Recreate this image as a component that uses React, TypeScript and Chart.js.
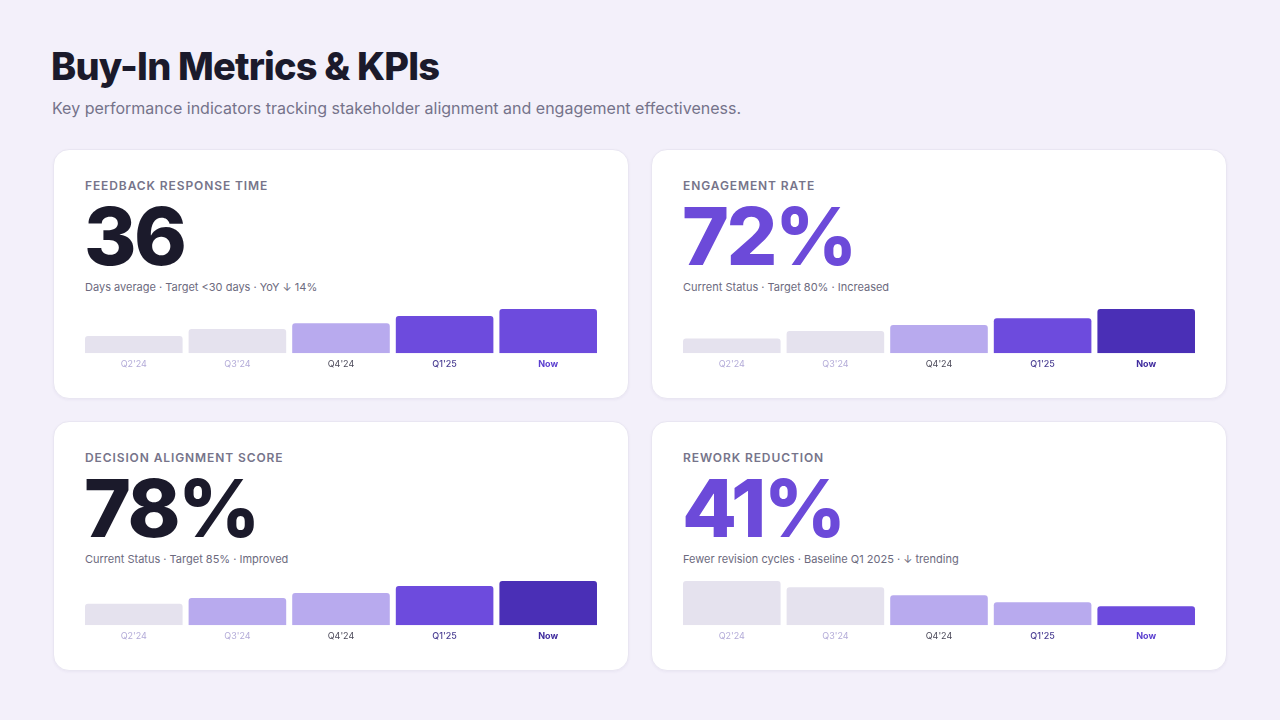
import React, { useEffect, useRef } from "react";
import { Chart, registerables } from "chart.js";

Chart.register(...registerables);

// Quarter labels shared by every KPI card
const quarters = ["Q2'24", "Q3'24", "Q4'24", "Q1'25", "Now"];

// Per-card trend values (tallest bar fills the strip)
const responseTrend = [39, 55, 68, 84, 100];
const engagementTrend = [24, 36, 46, 57, 72];
const alignmentTrend = [38, 48, 57, 69, 78];
const reworkTrend = [100, 86, 68, 52, 43];

// Palette
const GRAY = "#e5e2ee";
const LAV = "#b8aaee";
const PURPLE = "#6d4bdd";
const INDIGO = "#4a2fb6";

const responseColors = [GRAY, GRAY, LAV, PURPLE, PURPLE];
const engagementColors = [GRAY, GRAY, LAV, PURPLE, INDIGO];
const alignmentColors = [GRAY, LAV, LAV, PURPLE, INDIGO];
const reworkColors = [GRAY, GRAY, LAV, LAV, PURPLE];

const TICK_SOFT = "#b3abd8";
const TICK_MID = "#4c4a5a";
const TICK_Q1 = "#4b3f93";

const BG = "#f3f0fa";

type CardProps = {
  left: number;
  top: number;
  label: string;
  value: string;
  valueColor: string;
  note: string;
  data: number[];
  colors: string[];
  nowColor: string;
};

function TrendBars({ data, colors, nowColor }: { data: number[]; colors: string[]; nowColor: string }) {
  const ref = useRef<HTMLCanvasElement | null>(null);
  useEffect(() => {
    if (!ref.current) return;
    const tickColors = [TICK_SOFT, TICK_SOFT, TICK_MID, TICK_Q1, nowColor];
    const chart = new Chart(ref.current, {
      type: "bar",
      data: {
        labels: quarters,
        datasets: [
          {
            data,
            backgroundColor: colors,
            borderRadius: { topLeft: 3, topRight: 3, bottomLeft: 0, bottomRight: 0 },
            borderSkipped: false,
            barPercentage: 0.942,
            categoryPercentage: 1,
          },
        ],
      },
      options: {
        animation: false,
        responsive: false,
        maintainAspectRatio: false,
        layout: { padding: 0 },
        plugins: { legend: { display: false }, tooltip: { enabled: false } },
        scales: {
          x: {
            grid: { display: false, drawTicks: false },
            border: { display: false },
            ticks: {
              padding: 6,
              color: (ctx: any) => tickColors[ctx.index] ?? TICK_SOFT,
              font: (ctx: any) => ({
                family: "Inter",
                size: 9,
                weight: ctx.index === 4 ? 700 : ctx.index === 3 ? 500 : 400,
              }),
            },
          },
          y: {
            display: false,
            min: 0,
            max: Math.max(...data),
          },
        },
      },
    });
    return () => chart.destroy();
  }, [data, colors, nowColor]);
  return <canvas ref={ref} width={518} height={67} style={{ display: "block", width: 518, height: 67 }} />;
}

function KpiCard(p: CardProps) {
  return (
    <div
      style={{
        position: "absolute",
        left: p.left,
        top: p.top,
        width: 576,
        height: 250,
        boxSizing: "border-box",
        background: "#ffffff",
        border: "1px solid #e9e6f2",
        borderRadius: 16,
        boxShadow: "0 1px 3px rgba(60,40,120,0.05)",
      }}
    >
      <div
        style={{
          position: "absolute",
          left: 31,
          top: 29,
          fontSize: 12,
          lineHeight: "14px",
          fontWeight: 600,
          letterSpacing: 0.9,
          color: "#76748a",
          whiteSpace: "nowrap",
        }}
      >
        {p.label}
      </div>
      <div
        style={{
          position: "absolute",
          left: 30,
          top: 56,
          fontSize: 80,
          lineHeight: "60px",
          fontWeight: 800,
          letterSpacing: -2.5,
          color: p.valueColor,
          whiteSpace: "nowrap",
        }}
      >
        {p.value}
      </div>
      <div
        style={{
          position: "absolute",
          left: 31,
          top: 130,
          fontSize: 11,
          lineHeight: "14px",
          color: "#6c6a7e",
          whiteSpace: "nowrap",
        }}
      >
        {p.note}
      </div>
      <div style={{ position: "absolute", left: 28, top: 159 }}>
        <TrendBars data={p.data} colors={p.colors} nowColor={p.nowColor} />
      </div>
    </div>
  );
}

export default function App() {
  useEffect(() => {
    document.body.style.margin = "0";
    document.body.style.background = BG;
    document.documentElement.style.background = BG;
  }, []);
  return (
    <div
      style={{
        position: "fixed",
        left: 0,
        top: 0,
        width: 1280,
        height: 720,
        background: BG,
        fontFamily: "Inter, 'Noto Sans', sans-serif",
        overflow: "hidden",
      }}
    >
      <div
        style={{
          position: "absolute",
          left: 51,
          top: 43,
          fontSize: 38,
          lineHeight: "46px",
          fontWeight: 800,
          letterSpacing: -0.8,
          color: "#1b1a2b",
          whiteSpace: "nowrap",
        }}
      >
        Buy-In Metrics &amp; KPIs
      </div>
      <div
        style={{
          position: "absolute",
          left: 52,
          top: 97,
          fontSize: 16,
          lineHeight: "22px",
          color: "#75738a",
          whiteSpace: "nowrap",
        }}
      >
        Key performance indicators tracking stakeholder alignment and engagement effectiveness.
      </div>

      <KpiCard
        left={53}
        top={149}
        label="FEEDBACK RESPONSE TIME"
        value="36"
        valueColor="#1b1a2b"
        note="Days average · Target <30 days · YoY ↓ 14%"
        data={responseTrend}
        colors={responseColors}
        nowColor="#5b3fd0"
      />
      <KpiCard
        left={651}
        top={149}
        label="ENGAGEMENT RATE"
        value="72%"
        valueColor="#6c4ad9"
        note="Current Status · Target 80% · Increased"
        data={engagementTrend}
        colors={engagementColors}
        nowColor="#3f2b9e"
      />
      <KpiCard
        left={53}
        top={421}
        label="DECISION ALIGNMENT SCORE"
        value="78%"
        valueColor="#1b1a2b"
        note="Current Status · Target 85% · Improved"
        data={alignmentTrend}
        colors={alignmentColors}
        nowColor="#3f2b9e"
      />
      <KpiCard
        left={651}
        top={421}
        label="REWORK REDUCTION"
        value="41%"
        valueColor="#6c4ad9"
        note="Fewer revision cycles · Baseline Q1 2025 · ↓ trending"
        data={reworkTrend}
        colors={reworkColors}
        nowColor="#5b3fd0"
      />
    </div>
  );
}
